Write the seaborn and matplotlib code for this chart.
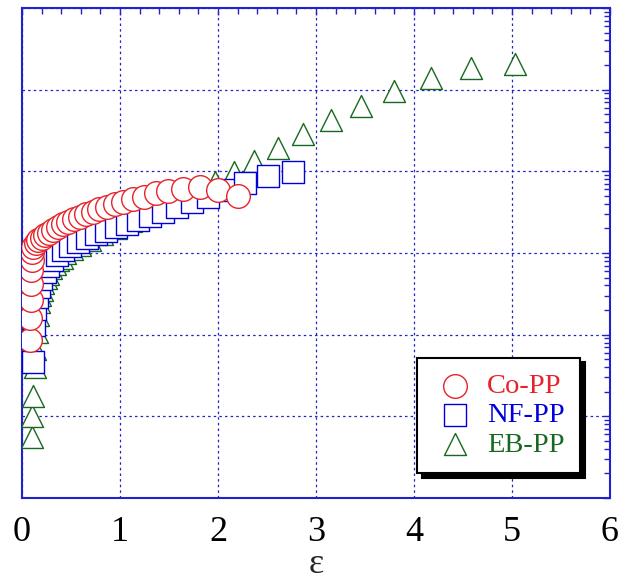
import numpy as np
import matplotlib
matplotlib.use("Agg")
import matplotlib.pyplot as plt
import seaborn as sns
from matplotlib.ticker import LogLocator, NullFormatter, MultipleLocator

# ---------------------------------------------------------
# data (x = strain, y = log-scale value)
# ---------------------------------------------------------
co_strain = [0.077, 0.082, 0.087, 0.092, 0.097, 0.102, 0.107, 0.115, 0.143, 0.166,
             0.201, 0.235, 0.279, 0.319, 0.370, 0.421, 0.472, 0.531, 0.592, 0.653,
             0.721, 0.789, 0.864, 0.949, 1.034, 1.136, 1.245, 1.367, 1.493, 1.640,
             1.816, 2.003, 2.201]
co_value = [86.0, 160, 266, 417, 619, 821, 1028, 1194, 1337, 1443,
            1539, 1661, 1772, 1912, 2098, 2245, 2416, 2608, 2782, 3002,
            3203, 3428, 3688, 3980, 4246, 4544, 4890, 5381, 5741, 6127,
            6375, 5906, 4988]

nf_strain = [0.115, 0.122, 0.138, 0.153, 0.173, 0.199, 0.230, 0.265, 0.306, 0.357,
             0.418, 0.490, 0.571, 0.663, 0.755, 0.857, 0.959, 1.071, 1.184, 1.306,
             1.439, 1.582, 1.735, 1.898, 2.082, 2.276, 2.510, 2.765]
nf_value = [46.3, 131, 206, 289, 383, 480, 577, 693, 821, 945,
            1088, 1218, 1363, 1526, 1684, 1859, 2052, 2265, 2500, 2797,
            3176, 3606, 4152, 4849, 5906, 7135, 8813, 9867]

eb_strain = [0.099, 0.105, 0.115, 0.128, 0.138, 0.153, 0.161, 0.176, 0.186, 0.202,
             0.219, 0.243, 0.263, 0.298, 0.339, 0.372, 0.406, 0.441, 0.510, 0.592,
             0.694, 0.816, 0.959, 1.112, 1.276, 1.439, 1.612, 1.786, 1.969, 2.160,
             2.370, 2.612, 2.867, 3.150, 3.459, 3.796, 4.170, 4.579, 5.031]
eb_value = [5.63, 10.0, 17.6, 39.6, 66.7, 108, 174, 249, 306, 352,
            426, 490, 548, 649, 727, 821, 876, 991, 1119, 1253,
            1443, 1684, 2023, 2465, 3088, 3869, 4849, 6075, 7464, 9895,
            13490, 19030, 28240, 42140, 63600, 96270, 138900, 182600, 206100]

labels = ["Co-PP", "NF-PP", "EB-PP"]
colors = ["#e8222a", "#0000dd", "#17691f"]

# ---------------------------------------------------------
# plot
# ---------------------------------------------------------
sns.set_style("white")
plt.rcParams['font.family'] = ['Liberation Serif', 'DejaVu Serif']

axis_blue = "#2222cc"

fig = plt.figure(figsize=(6.19, 5.81), dpi=100)
ax = fig.add_axes([0.0355, 0.1429, 0.9499, 0.8434])

# draw back to front: triangles, squares, circles
sns.scatterplot(x=eb_strain, y=eb_value, marker='^', s=250, color=colors[2],
                facecolor='white', edgecolor=colors[2], linewidth=1.0,
                label=labels[2], ax=ax, zorder=3)
sns.scatterplot(x=nf_strain, y=nf_value, marker='s', s=270, color=colors[1],
                facecolor='white', edgecolor=colors[1], linewidth=1.0,
                label=labels[1], ax=ax, zorder=4)
sns.scatterplot(x=co_strain, y=co_value, marker='o', s=290, color=colors[0],
                facecolor='white', edgecolor=colors[0], linewidth=1.0,
                label=labels[0], ax=ax, zorder=5)

ax.set_yscale('log')
ax.set_xlim(0, 6)
ax.set_ylim(1, 1e6)

ax.xaxis.set_major_locator(MultipleLocator(1))
ax.xaxis.set_minor_locator(MultipleLocator(0.2))
ax.yaxis.set_major_locator(LogLocator(base=10, numticks=20))
ax.yaxis.set_minor_locator(LogLocator(base=10, subs=np.arange(2, 10), numticks=100))
ax.yaxis.set_major_formatter(NullFormatter())
ax.yaxis.set_minor_formatter(NullFormatter())

ax.tick_params(which='both', direction='in', top=True, right=True,
               color=axis_blue, width=1.0)
ax.tick_params(which='major', length=5)
ax.tick_params(which='minor', length=4)
ax.tick_params(axis='x', labelsize=26, pad=13, labelcolor='black')

ax.set_axisbelow(True)
ax.grid(True, which='major', color=axis_blue, linestyle=(0, (2, 2.5)), linewidth=0.9)
for sp in ax.spines.values():
    sp.set_color(axis_blue)
    sp.set_linewidth(1.5)

ax.set_xlabel("ε", fontsize=26, labelpad=-0.5)
ax.set_ylabel("")

# legend in Co / NF / EB order with coloured labels
handles, lbls = ax.get_legend_handles_labels()
order = [lbls.index(l) for l in labels]
leg = ax.legend([handles[i] for i in order], [lbls[i] for i in order],
                loc='lower right', bbox_to_anchor=(0.949, 0.05),
                fontsize=20.5, frameon=True, fancybox=False,
                shadow={'ox': 3.5, 'oy': -3.5, 'color': 'black', 'alpha': 1},
                edgecolor='black', framealpha=1, handletextpad=0.3,
                labelspacing=0.12, borderpad=0.55, handlelength=1.6,
                borderaxespad=0, scatterpoints=1)
leg.get_frame().set_linewidth(1.5)
for t, c in zip(leg.get_texts(), colors):
    t.set_color(c)

fig.savefig("out.png", dpi=100)
